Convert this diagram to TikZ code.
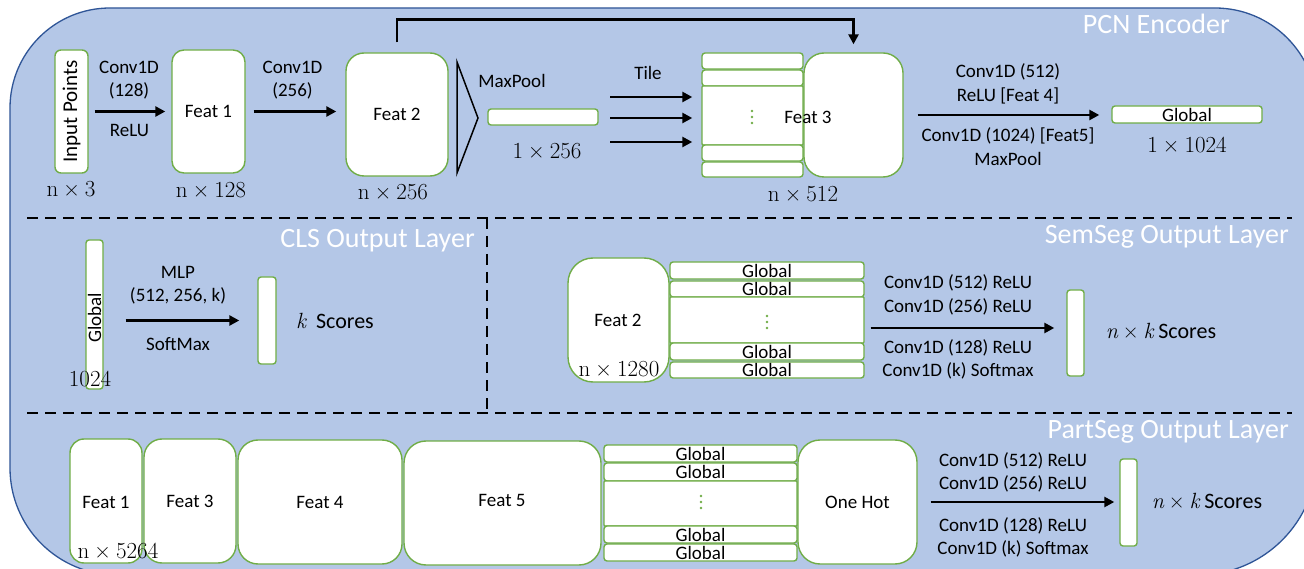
\documentclass[tikz,border=0pt]{standalone}
\usepackage[no-math]{fontspec}
\setmainfont{Carlito}
\newfontfamily\lmfont{Latin Modern Roman}
\usetikzlibrary{arrows.meta,calc}
\definecolor{panelblue}{HTML}{B4C7E7}
\definecolor{panelline}{HTML}{2F5597}
\definecolor{cellgreen}{HTML}{70AD47}
\newcommand\labfont{\fontsize{19}{23}\selectfont}
\newcommand\inpfont{\fontsize{21}{25}\selectfont}
\newcommand\dimfont{\lmfont\fontsize{23}{27}\selectfont}
\newcommand\ttlfont{\fontsize{28}{32}\selectfont}
\newcommand\scorefont{\fontsize{22}{26}\selectfont}
\newcommand\timesign{\hspace{0.22em}×\hspace{0.22em}}
\newcommand\mvar[1]{{\lmfont\itshape #1}}

\tikzset{
  cell/.style={draw=cellgreen, fill=white, line width=1.4pt, inner sep=0pt,
    rounded corners=#1, font=\labfont},
  cell/.default=3pt,
  wh/.style 2 args={minimum width=#1pt, minimum height=#2pt},
  lab/.style={font=\labfont, inner sep=0pt, anchor=base},
  dimlab/.style={font=\dimfont, inner sep=0pt, anchor=base},
  ttl/.style={font=\ttlfont, text=white, inner sep=0pt, anchor=base east},
  arr/.style={draw=black, line width=2.6pt, -{Triangle[length=10pt,width=10pt]}},
  divider/.style={draw=black, line width=2.5pt, dash pattern=on 11pt off 7pt},
  gdot/.style={fill=cellgreen}
}
% three green dots standing for the omitted rows
\newcommand\greendots[1]{%
  \fill[gdot] ($(#1)+(0,-6)$) circle (1.4pt);
  \fill[gdot] (#1) circle (1.4pt);
  \fill[gdot] ($(#1)+(0,6)$) circle (1.4pt);}

\begin{document}
\begin{tikzpicture}[x=1pt,y=-1pt]
\useasboundingbox (0,0) rectangle (1304,569);
\fill[white] (0,0) rectangle (1304,569);

% panel
\path[fill=panelblue, draw=panelline, line width=1.3pt]
  (10,108) .. controls (10,52.77) and (54.77,8) .. (110,8)
  -- (1215,8) .. controls (1271.3,8) and (1317,53.7) .. (1317,110)
  -- (1317,456) .. controls (1317,521.7) and (1263.7,575) .. (1198,575)
  -- (117,575) .. controls (57.9,575) and (10,527.1) .. (10,468) -- cycle;

% section separators
\draw[divider] (27,218) -- (1292,218);
\draw[divider] (27,413) -- (1292,413);
\draw[divider] (487,218) -- (487,413);

% section titles
\node[ttl] (tpcn) at (1230,34) {PCN Encoder};
\node[ttl] (tcls) at (475,248) {CLS Output Layer};
\node[ttl] (tsem) at (1289,244) {SemSeg Output Layer};
\node[ttl] (tpart) at (1289,438) {PartSeg Output Layer};

%% ---------------- encoder ----------------
\node[cell=6pt, wh={33}{123}] (inp) at (71.5,111.5) {};
\node[rotate=90, font=\inpfont, inner sep=0pt] (inptxt) at (inp.center) {Input Points};
\node[dimlab] (dinp) at (71,197) {n\timesign 3};

\node[cell=12pt, wh={73}{123}] (f1) at (208.5,111.5) {Feat 1};
\node[dimlab] (df1) at (211,198) {n\timesign 128};

\node[cell=18pt, wh={102}{123}] (f2) at (397,114.5) {Feat 2};
\node[dimlab] (df2) at (393,200) {n\timesign 256};

\draw[arr, shorten <=6pt, shorten >=6pt] (inp.east) -- (inp.east -| f1.west);
\node[lab] (l1a) at (129,74) {Conv1D};
\node[lab] (l1b) at (129,97) {(128)};
\node[lab] (l1c) at (129.5,137) {ReLU};

\draw[arr, shorten <=8pt, shorten >=9pt] (f1.east) -- (f1.east -| f2.west);
\node[lab] (l2a) at (292.5,74) {Conv1D};
\node[lab] (l2b) at (292.5,97) {(256)};

% max pooling
\draw[line width=1.5pt, line join=miter] (457,62) -- (478,118) -- (457,173) -- cycle;
\node[lab] (lmp) at (512,88) {MaxPool};
\node[cell, wh={110}{16}] (mp) at (543,117) {};
\node[dimlab] (dmp) at (547,159) {1\timesign 256};

% tiled feature stack
\node[cell, wh={101}{16}] (r1) at (752.5,61) {};
\node[cell, wh={101}{16}] (r2) at (752.5,78) {};
\node[cell=1pt, wh={101}{59}] (rm) at (752.5,115.5) {};
\node[cell, wh={101}{16}] (r4) at (752.5,153) {};
\node[cell, wh={101}{15}] (r5) at (752.5,169.5) {};
\greendots{752,117}
\node[cell=20pt, wh={99}{124}] (f3) at (853.5,115) {};
\node[lab, anchor=center] (f3txt) at (808,117) {Feat 3};
\node[dimlab] (df3) at (803,202) {n\timesign 512};

\node[lab] (ltile) at (648,80) {Tile};
\coordinate (ta) at (610,97);
\coordinate (tb) at (610,118);
\coordinate (tc) at (610,142);
\draw[arr, shorten >=9pt] (ta) -- (ta -| rm.west);
\draw[arr, shorten >=9pt] (tb) -- (tb -| rm.west);
\draw[arr, shorten >=9pt] (tc) -- (tc -| rm.west);

% skip connection
\draw[arr, shorten <=10pt, shorten >=8pt, line join=miter]
  (f2.north) -- ++(0,-33) -| (f3.north);

% global feature
\node[cell, wh={150}{17}] (glob) at (1187,114.5) {Global};
\node[dimlab] (dglob) at (1187,153) {1\timesign 1024};
\draw[arr, shorten <=14pt, shorten >=12pt] (f3.east) -- (f3.east -| glob.west);
\node[lab] (l3a) at (1008,78) {Conv1D (512)};
\node[lab] (l3b) at (1008,102) {ReLU [Feat 4]};
\node[lab] (l3c) at (1008,142) {Conv1D (1024) [Feat5]};
\node[lab] (l3d) at (1008,166) {MaxPool};

%% ---------------- classification head ----------------
\node[cell, wh={17}{149}] (cg) at (94.5,314.5) {};
\node[rotate=90, font=\labfont, inner sep=0pt] (cgtxt) at (94.5,318) {Global};
\node[dimlab] (dcg) at (90,386) {1024};
\node[cell, wh={18}{87}] (cs) at (267,320.5) {};
\draw[arr, shorten <=22pt, shorten >=18pt] (cg.east |- cs.west) -- (cs.west);
\node[lab] (lc1) at (178,279) {MLP};
\node[lab] (lc2) at (178,302) {(512, 256, k)};
\node[lab] (lc3) at (178,351) {SoftMax};
\node[anchor=base, inner sep=0pt, font=\scorefont] (cks) at (335,329) {\mvar{k}\ \ Scores};

%% ---------------- semantic segmentation head ----------------
\node[cell=25pt, wh={101}{124}] (sf2) at (618.5,320) {};
\node[lab, anchor=center] (sf2txt) at (618,320) {Feat 2};
\node[dimlab] (dsf2) at (619,376) {n\timesign 1280};
\node[cell, wh={194}{17}] (s1) at (767,270.5) {Global};
\node[cell, wh={194}{16}] (s2) at (767,289) {Global};
\node[cell=1pt, wh={194}{46}] (sm) at (767,320) {};
\node[cell, wh={194}{17}] (s4) at (767,351.5) {Global};
\node[cell, wh={194}{16}] (s5) at (767,370) {Global};
\greendots{767,322}
\node[cell, wh={17}{86}] (ss) at (1075.5,333) {};
\path ([yshift=-8pt]sm.east) coordinate (sa);
\draw[arr, shorten <=6pt, shorten >=12pt] (sa) -- (sa -| ss.west);
\node[lab] (ls1) at (958,289) {Conv1D (512) ReLU};
\node[lab] (ls2) at (958,313) {Conv1D (256) ReLU};
\node[lab] (ls3) at (958,353) {Conv1D (128) ReLU};
\node[lab] (ls4) at (958,376) {Conv1D (k) Softmax};
\node[anchor=base, inner sep=0pt, font=\scorefont] (sks) at (1161,338)
  {\mvar{n}{\lmfont\timesign}\mvar{k} Scores};

%% ---------------- part segmentation head ----------------
\node[cell=14pt, wh={72}{124}] (pf1) at (106,501) {};
\node[cell=18pt, wh={92}{124}] (pf3) at (190,501) {Feat 3};
\node[cell=20pt, wh={164}{124}] (pf4) at (320,502) {Feat 4};
\node[cell=22pt, wh={197}{124}] (pf5) at (502.5,503) {};
\node[lab] (pf1txt) at (106,508) {Feat 1};
\node[lab] (pf5txt) at (502,506) {Feat 5};
\node[cell, wh={193}{17}] (p1) at (700.5,453.5) {Global};
\node[cell, wh={193}{18}] (p2) at (700.5,472) {Global};
\node[cell=1pt, wh={193}{45}] (pm) at (700.5,503.5) {};
\node[cell, wh={193}{17}] (p4) at (700.5,534.5) {Global};
\node[cell, wh={193}{17}] (p5) at (700.5,552.5) {Global};
\greendots{701,502}
\node[cell=22pt, wh={119}{124}] (oh) at (857.5,502) {One Hot};
\node[dimlab] (dpf) at (118,558) {n\timesign 5264};
\node[cell, wh={17}{87}] (ps) at (1128.5,502.5) {};
\draw[arr, shorten <=13pt, shorten >=5pt] (oh.east) -- (oh.east -| ps.west);
\node[lab] (lp1) at (1013,466) {Conv1D (512) ReLU};
\node[lab] (lp2) at (1013,489) {Conv1D (256) ReLU};
\node[lab] (lp3) at (1013,531) {Conv1D (128) ReLU};
\node[lab] (lp4) at (1013,554) {Conv1D (k) Softmax};
\node[anchor=base, inner sep=0pt, font=\scorefont] (pks) at (1207,508)
  {\mvar{n}{\lmfont\timesign}\mvar{k} Scores};
\end{tikzpicture}
\end{document}
